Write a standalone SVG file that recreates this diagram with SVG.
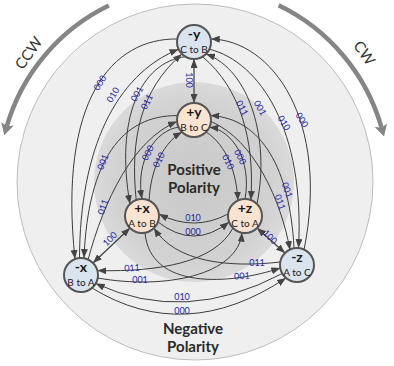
<svg xmlns="http://www.w3.org/2000/svg" width="394" height="366" viewBox="0 0 394 366">
<style>
.c{fill:none;stroke:#3c3c3c;stroke-width:1;marker-end:url(#ah)}
.d{fill:none;stroke:#3c3c3c;stroke-width:1.2;marker-start:url(#ah);marker-end:url(#ah)}
.big{fill:none;stroke:#858585;stroke-width:4.5;marker-end:url(#bh)}
.l{font-family:Lato,"Liberation Sans",sans-serif;font-size:9px;fill:#2626a8;text-anchor:middle}
.nt{font-family:Lato,"Liberation Sans",sans-serif;font-size:14px;font-weight:bold;fill:#1a1a1a;text-anchor:middle}
.ns{font-family:Lato,"Liberation Sans",sans-serif;font-size:10px;fill:#1a1a1a;text-anchor:middle}
.pol{font-family:Lato,"Liberation Sans",sans-serif;font-size:15px;font-weight:bold;fill:#2a2a2a;text-anchor:middle}
.dir{font-family:Lato,"Liberation Sans",sans-serif;font-size:15px;fill:#333;text-anchor:middle}
.neg{fill:#d9e4ef;stroke:#555;stroke-width:2}
.pos{fill:#fbe3d2;stroke:#555;stroke-width:2}
</style>
<defs>
<marker id="ah" viewBox="0 0 9 7" refX="9" refY="3.5" markerWidth="9" markerHeight="7" markerUnits="userSpaceOnUse" orient="auto-start-reverse">
<path d="M0,0 L9,3.5 L0,7 z" fill="#444"/>
</marker>
<marker id="bh" viewBox="0 0 12 13" refX="3" refY="6.5" markerWidth="12" markerHeight="13" markerUnits="userSpaceOnUse" orient="auto">
<path d="M0,0 L12,6.5 L0,13 L3,6.5 z" fill="#858585"/>
</marker>
<radialGradient id="ig" cx="0.5" cy="0.5" r="0.5">
<stop offset="0" stop-color="#c8c8c8"/>
<stop offset="0.8" stop-color="#d2d2d2"/>
<stop offset="1" stop-color="#dadada"/>
</radialGradient>
</defs>
<rect width="394" height="366" fill="#ffffff"/>
<g id="background">
<circle cx="195" cy="182" r="178" fill="#efefef" stroke="#bdbdbd" stroke-width="1"/>
<circle cx="194" cy="182" r="100" fill="url(#ig)"/>
</g>
<g id="direction">
<path class="big" d="M108.8,5.6 A195,195 0 0 0 6.7,126.6"/>
<path class="big" d="M278.6,5.3 A195,195 0 0 1 381.6,127.9"/>
<text class="dir" transform="translate(33,56) rotate(-55)">CCW</text>
<text class="dir" transform="translate(360,56) rotate(55)">CW</text>
</g>
<g id="polarity">
<text class="pol" x="194" y="175">Positive</text>
<text class="pol" x="194" y="192.5">Polarity</text>
<text class="pol" x="193" y="334">Negative</text>
<text class="pol" x="193" y="351.5">Polarity</text>
</g>
<g id="connectors">
<path class="d" d="M194,59 L194,103"/>
<path class="d" d="M130,228 L93,263"/>
<path class="d" d="M257,228 L285,253"/>
<path class="c" d="M177.3,39 C112,38 58,100 75,259"/>
<path class="c" d="M79.5,258 C80,150 115,75 178.6,49.2"/>
<path class="c" d="M185.5,56.7 C140,62 115,120 130,204"/>
<path class="c" d="M136.2,200 C130,140 140,90 182,54"/>
<path class="c" d="M177.6,115.6 C122,115 88,160 84,258"/>
<path class="c" d="M88,260 C104,200 133,140 177,121.5"/>
<path class="c" d="M178.6,127.2 C156,130 135,160 142,199"/>
<path class="c" d="M149.2,200.6 C150,175 160,145 182,132"/>
<path class="c" d="M304,250 C330,120 272,40 210.7,39"/>
<path class="c" d="M209.4,49.2 C260,62 305,130 298.5,248"/>
<path class="c" d="M257,204 C270,140 250,70 206,54"/>
<path class="c" d="M202.5,56.7 C240,88 255,140 250.8,200"/>
<path class="c" d="M294,248 C290,170 262,118 210.4,115.6"/>
<path class="c" d="M211,121.5 C254,140 281,200 290,250"/>
<path class="c" d="M245,199 C252,160 232,130 209.4,127.2"/>
<path class="c" d="M206,132 C227,145 237,175 237.8,200.6"/>
<path class="c" d="M228,214 Q194,232 159,214"/>
<path class="c" d="M158,222 Q194,250 229,222"/>
<path class="c" d="M233,228 C215,262 160,272 97.4,270.6"/>
<path class="c" d="M97.7,278 C165,290 238,275 242,232.7"/>
<path class="c" d="M280.3,262 C228,268 175,262 154,228"/>
<path class="c" d="M145,232.7 C150,290 230,285 280.3,268"/>
<path class="c" d="M282.3,273.5 Q185,325 95.7,283.5"/>
<path class="c" d="M92,288 Q185,345 286,278"/>
</g>
<g id="labels">
<text class="l" transform="translate(189,80) rotate(90)" y="3">100</text>
<text class="l" transform="translate(110,239) rotate(-45)" y="3">100</text>
<text class="l" transform="translate(270,237) rotate(45)" y="3">100</text>
<text class="l" transform="translate(100,83) rotate(-58)" y="3">000</text>
<text class="l" transform="translate(113,95) rotate(-58)" y="3">010</text>
<text class="l" transform="translate(137,94) rotate(-60)" y="3">001</text>
<text class="l" transform="translate(147,102) rotate(-62)" y="3">011</text>
<text class="l" transform="translate(242,108) rotate(62)" y="3">011</text>
<text class="l" transform="translate(260,108) rotate(60)" y="3">001</text>
<text class="l" transform="translate(284,123) rotate(58)" y="3">010</text>
<text class="l" transform="translate(302,120) rotate(58)" y="3">000</text>
<text class="l" transform="translate(103,162) rotate(-68)" y="3">001</text>
<text class="l" transform="translate(103,207) rotate(-72)" y="3">011</text>
<text class="l" transform="translate(287,190) rotate(70)" y="3">001</text>
<text class="l" transform="translate(280,202) rotate(70)" y="3">011</text>
<text class="l" transform="translate(148,153) rotate(-62)" y="3">000</text>
<text class="l" transform="translate(159,160) rotate(-62)" y="3">010</text>
<text class="l" transform="translate(228,162) rotate(62)" y="3">010</text>
<text class="l" transform="translate(240,157) rotate(62)" y="3">000</text>
<text class="l" x="193" y="221">010</text>
<text class="l" x="193" y="235">000</text>
<text class="l" transform="translate(132,268) rotate(-4)" y="3">011</text>
<text class="l" x="140" y="283">001</text>
<text class="l" x="257" y="266">011</text>
<text class="l" transform="translate(242,276) rotate(-3)" y="3">001</text>
<text class="l" x="182" y="300">010</text>
<text class="l" x="182" y="314">000</text>
</g>
<g id="node-neg-y">
<circle class="neg" cx="194" cy="42" r="17"/>
<text class="nt" x="194" y="39">-y</text>
<text class="ns" x="194" y="53">C to B</text>
</g>
<g id="node-pos-y">
<circle class="pos" cx="194" cy="120" r="17"/>
<text class="nt" x="194" y="117">+y</text>
<text class="ns" x="194" y="131">B to C</text>
</g>
<g id="node-pos-x">
<circle class="pos" cx="142" cy="216" r="17"/>
<text class="nt" x="142" y="213">+x</text>
<text class="ns" x="142" y="227">A to B</text>
</g>
<g id="node-pos-z">
<circle class="pos" cx="245" cy="216" r="17"/>
<text class="nt" x="245" y="213">+z</text>
<text class="ns" x="245" y="227">C to A</text>
</g>
<g id="node-neg-x">
<circle class="neg" cx="81" cy="275" r="17"/>
<text class="nt" x="81" y="272">-x</text>
<text class="ns" x="81" y="286">B to A</text>
</g>
<g id="node-neg-z">
<circle class="neg" cx="297" cy="265" r="17"/>
<text class="nt" x="297" y="262">-z</text>
<text class="ns" x="297" y="276">A to C</text>
</g>
</svg>
